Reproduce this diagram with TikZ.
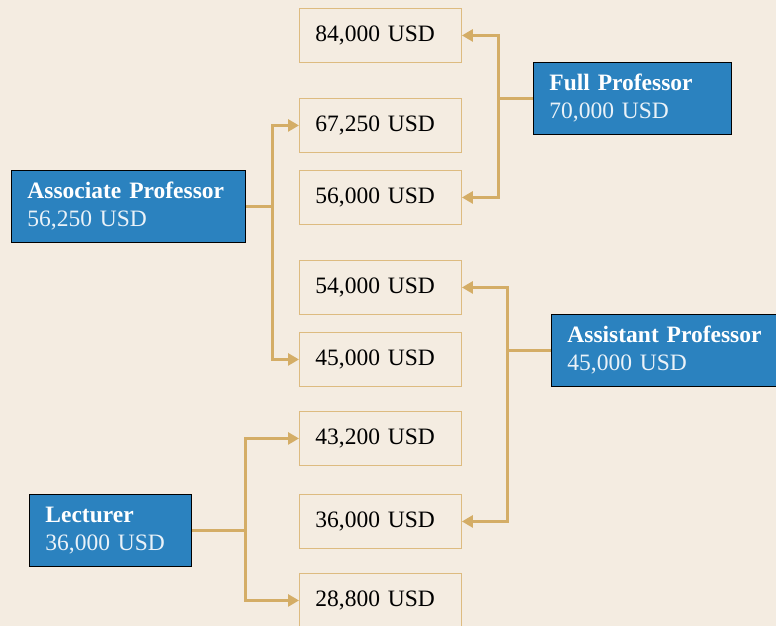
\documentclass[tikz,border=0pt]{standalone}
\usepackage{fontspec}
\setmainfont{Liberation Serif}
\usepackage{tikz}
\usetikzlibrary{arrows.meta,positioning}
\definecolor{paper}{HTML}{F4ECE1}
\definecolor{rankblue}{HTML}{2B82BF}
\definecolor{gold}{HTML}{D4AD66}
\definecolor{goldline}{HTML}{DDBB80}
\definecolor{softwhite}{HTML}{EAF2F8}

\begin{document}
\begin{tikzpicture}[
    x=1pt, y=-1pt,
    font=\fontsize{23.5}{28}\selectfont,
    sal/.style={draw=goldline, line width=0.9pt, anchor=north west, minimum width=162pt, minimum height=54pt, text width=130pt, inner xsep=16pt, align=left},
    rank/.style={draw=black, fill=rankblue, text=white, line width=0.9pt, anchor=north west, minimum height=72pt, inner xsep=16pt, align=left},
    link/.style={draw=gold, line width=3pt},
    tip/.style={link, -{Triangle[length=11pt,width=12pt]}}
]
\fill[paper] (0,0) rectangle (776,626);
\useasboundingbox (0,0) rectangle (776,626);

% salary boxes
\node[sal] (s84) at (299,8) {84,000 USD};
\node[sal] (s67) at (299,98) {67,250 USD};
\node[sal] (s56) at (299,170) {56,000 USD};
\node[sal] (s54) at (299,260) {54,000 USD};
\node[sal] (s45) at (299,332) {45,000 USD};
\node[sal] (s43) at (299,411) {43,200 USD};
\node[sal] (s36) at (299,494) {36,000 USD};
\node[sal] (s28) at (299,573) {28,800 USD};

% ranks
\node[rank, minimum width=234pt, text width=202pt] (ap) at (11,170) {\mbox{\textbf{Associate Professor}}\\{\color{softwhite}56,250 USD}};
\node[rank, minimum width=198pt, text width=166pt] (fp) at (533,62) {\mbox{\textbf{Full Professor}}\\{\color{softwhite}70,000 USD}};
\node[rank, minimum width=225pt, text width=193pt] (asp) at (551,314) {\mbox{\textbf{Assistant Professor}}\\{\color{softwhite}45,000 USD}};
\node[rank, minimum width=162pt, text width=130pt] (lec) at (29,494) {\mbox{\textbf{Lecturer}}\\{\color{softwhite}36,000 USD}};

% connectors
\draw[link] (ap.east) -- ++(27,0) coordinate (apj);
\draw[tip] (apj) |- (s67.west);
\draw[tip] (apj) |- (s45.west);

\draw[link] (fp.west) -- ++(-35,0) coordinate (fpj);
\draw[tip] (fpj) |- (s84.east);
\draw[tip] (fpj) |- (s56.east);

\draw[link] (asp.west) -- ++(-44,0) coordinate (aspj);
\draw[tip] (aspj) |- (s54.east);
\draw[tip] (aspj) |- (s36.east);

\draw[link] (lec.east) -- ++(54,0) coordinate (lecj);
\draw[tip] (lecj) |- (s43.west);
\draw[tip] (lecj) |- (s28.west);
\end{tikzpicture}
\end{document}
